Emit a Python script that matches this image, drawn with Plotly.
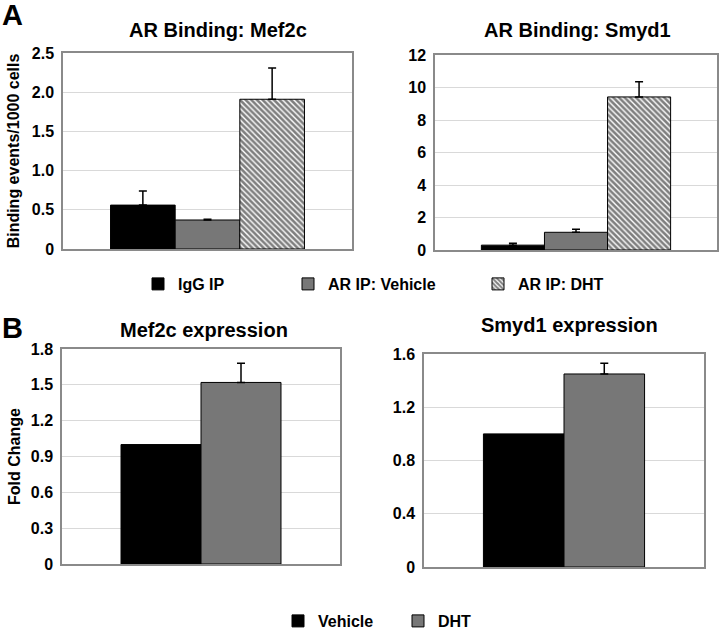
import plotly.graph_objects as go

# ---------------- data ----------------
binding_series = ["IgG IP", "AR IP: Vehicle", "AR IP: DHT"]
mef2c_binding = [0.56, 0.37, 1.91]
mef2c_binding_err = [0.18, 0.01, 0.40]
smyd1_binding = [0.30, 1.09, 9.42]
smyd1_binding_err = [0.11, 0.18, 0.94]

expr_series = ["Vehicle", "DHT"]
mef2c_expr = [1.00, 1.52]
mef2c_expr_err = [0.0, 0.16]
smyd1_expr = [1.00, 1.45]
smyd1_expr_err = [0.0, 0.08]

a_left_ticks = [0, 0.5, 1.0, 1.5, 2.0, 2.5]
a_left_ticktext = ["0", "0.5", "1.0", "1.5", "2.0", "2.5"]
a_right_ticks = [0, 2, 4, 6, 8, 10, 12]
b_left_ticks = [0, 0.3, 0.6, 0.9, 1.2, 1.5, 1.8]
b_left_ticktext = ["0", "0.3", "0.6", "0.9", "1.2", "1.5", "1.8"]
b_right_ticks = [0, 0.4, 0.8, 1.2, 1.6]
b_right_ticktext = ["0", "0.4", "0.8", "1.2", "1.6"]

W, H = 720, 632
FONT = "Liberation Sans, Arial, sans-serif"

def px_x(p):
    return p / W

def px_y(p):
    return 1 - p / H

binding_styles = [
    dict(color="#000000"),
    dict(color="#777777"),
    dict(color="#ffffff", pattern=dict(shape="\\", fgcolor="#000000", bgcolor="#ffffff", size=4, solidity=0.65)),
]
expr_styles = [dict(color="#000000"), dict(color="#777777")]

fig = go.Figure()

def add_group(values, errors, names, styles, xaxis, yaxis, legend_ids, showlegend):
    for i, (v, e, n, st) in enumerate(zip(values, errors, names, styles)):
        fig.add_trace(go.Bar(
            x=["g"], y=[v], name=n,
            marker=dict(line=dict(color="#000000", width=1), **st),
            error_y=dict(type="data", array=[e], arrayminus=[0], symmetric=False,
                         color="#000000", thickness=1.5, width=4, visible=e > 0),
            xaxis=xaxis, yaxis=yaxis,
            legendgroup=n, showlegend=showlegend,
            legend=legend_ids[i] if showlegend else None,
        ))

add_group(mef2c_binding, mef2c_binding_err, binding_series, binding_styles, "x", "y",
          ["legend", "legend2", "legend3"], True)
add_group(smyd1_binding, smyd1_binding_err, binding_series, binding_styles, "x2", "y2",
          None, False)
add_group(mef2c_expr, mef2c_expr_err, expr_series, expr_styles, "x3", "y3",
          ["legend4", "legend5"], True)
add_group(smyd1_expr, smyd1_expr_err, expr_series, expr_styles, "x4", "y4",
          None, False)

tickfont = dict(family=FONT, size=16, color="#000000", weight="bold")
frame = dict(showline=True, linecolor="#8a8a8a", linewidth=1.5, mirror=True)

def xax(domain, half, anchor):
    return dict(domain=domain, type="category", range=[-half, half], anchor=anchor,
                showticklabels=False, ticks="", showgrid=False, zeroline=False,
                automargin=False, **frame)

def yax(domain, rng, tv, tt, anchor):
    return dict(domain=domain, range=rng, tickvals=tv, ticktext=tt, tickfont=tickfont,
                showgrid=True, gridcolor="#d9d9d9", gridwidth=1, zeroline=False,
                ticks="", ticklabelstandoff=4, anchor=anchor, automargin=False, **frame)

layout = dict(
    width=W, height=H, margin=dict(l=0, r=0, t=0, b=0, autoexpand=False),
    paper_bgcolor="#ffffff", plot_bgcolor="#ffffff",
    barmode="group", bargap=0.329, bargroupgap=0,
    font=dict(family=FONT, color="#000000"),
    xaxis=xax([px_x(63), px_x(352)], 0.5, "y"),
    yaxis=yax([px_y(249), px_y(53)], [0, 2.5], a_left_ticks, a_left_ticktext, "x"),
    xaxis2=xax([px_x(435), px_x(717)], 0.5, "y2"),
    yaxis2=yax([px_y(250), px_y(55)], [0, 12], a_right_ticks, [str(t) for t in a_right_ticks], "x2"),
    xaxis3=xax([px_x(62), px_x(340)], 0.583, "y3"),
    yaxis3=yax([px_y(564), px_y(349)], [0, 1.8], b_left_ticks, b_left_ticktext, "x3"),
    xaxis4=xax([px_x(424), px_x(704)], 0.583, "y4"),
    yaxis4=yax([px_y(567), px_y(354)], [0, 1.6], b_right_ticks, b_right_ticktext, "x4"),
)
layout["yaxis"]["title"] = dict(text="Binding events/1000 cells", standoff=8,
                                font=dict(family=FONT, size=16, weight="bold", color="#000000"))
layout["yaxis3"]["title"] = dict(text="Fold Change", standoff=6,
                                 font=dict(family=FONT, size=16, weight="bold", color="#000000"))

legfont = dict(family=FONT, size=16, color="#000000", weight="bold")
def leg(cx, cy):
    return dict(x=px_x(cx - 20), y=px_y(cy), xanchor="left", yanchor="middle",
                orientation="h", font=legfont, bgcolor="rgba(0,0,0,0)")

layout["legend"] = leg(158, 284)
layout["legend2"] = leg(308, 284)
layout["legend3"] = leg(498, 284)
layout["legend4"] = leg(298, 621)
layout["legend5"] = leg(418, 621)

fig.update_layout(**layout)

titlefont = dict(family=FONT, size=20, color="#000000", weight="bold")
titles = [("AR Binding: Mef2c", 218, 30), ("AR Binding: Smyd1", 577, 30),
          ("Mef2c expression", 204, 330), ("Smyd1 expression", 569, 325)]
for t, cx, cy in titles:
    fig.add_annotation(text=t, x=px_x(cx), y=px_y(cy), xref="paper", yref="paper",
                       xanchor="center", yanchor="middle", showarrow=False, font=titlefont)

for t, cx, cy in [("A", 12, 15), ("B", 12, 328)]:
    fig.add_annotation(text=t, x=px_x(cx), y=px_y(cy), xref="paper", yref="paper",
                       xanchor="center", yanchor="middle", showarrow=False,
                       font=dict(family=FONT, size=29, color="#000000", weight="bold"))

fig.write_html("out.html", config={"displayModeBar": False},
               post_script="document.body.style.margin='0';")
